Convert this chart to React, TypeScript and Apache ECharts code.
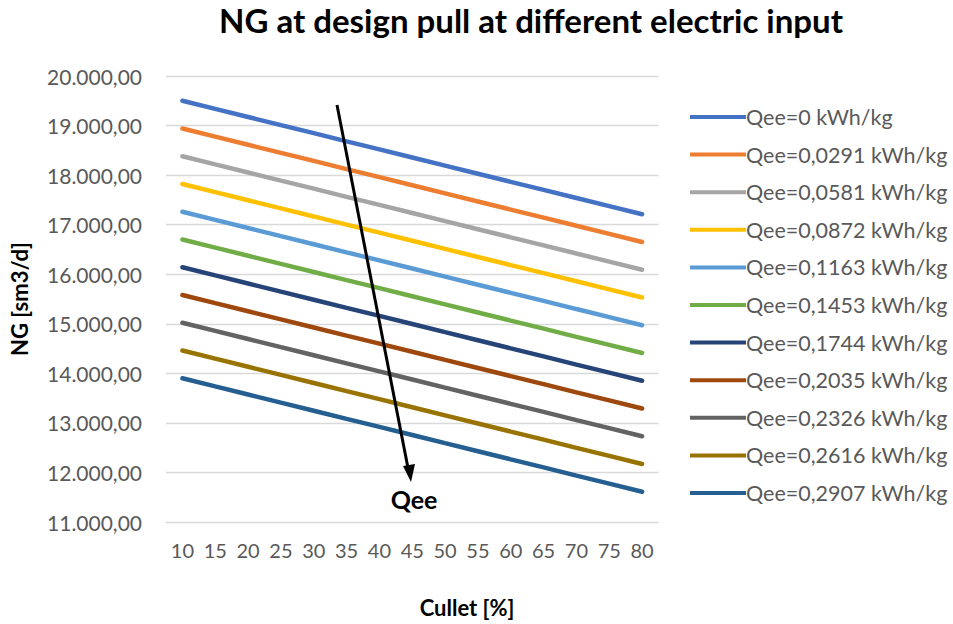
import React, { useEffect, useRef } from "react";
import * as echarts from "echarts";

// Cullet share on the x axis (%)
const cullet = ["10", "15", "20", "25", "30", "35", "40", "45", "50", "55", "60", "65", "70", "75", "80"];

// Specific electric input per curve
const seriesNames = [
  "Qee=0 kWh/kg",
  "Qee=0,0291 kWh/kg",
  "Qee=0,0581 kWh/kg",
  "Qee=0,0872 kWh/kg",
  "Qee=0,1163 kWh/kg",
  "Qee=0,1453 kWh/kg",
  "Qee=0,1744 kWh/kg",
  "Qee=0,2035 kWh/kg",
  "Qee=0,2326 kWh/kg",
  "Qee=0,2616 kWh/kg",
  "Qee=0,2907 kWh/kg",
];

// Natural gas consumption [sm3/d] per curve
const qee0000 = [19500, 19336, 19173, 19009, 18846, 18682, 18519, 18355, 18191, 18028, 17864, 17701, 17537, 17374, 17210];
const qee0291 = [18940, 18776, 18613, 18449, 18286, 18122, 17959, 17795, 17631, 17468, 17304, 17141, 16977, 16814, 16650];
const qee0581 = [18380, 18216, 18053, 17889, 17726, 17562, 17399, 17235, 17071, 16908, 16744, 16581, 16417, 16254, 16090];
const qee0872 = [17820, 17656, 17493, 17329, 17166, 17002, 16839, 16675, 16511, 16348, 16184, 16021, 15857, 15694, 15530];
const qee1163 = [17260, 17096, 16933, 16769, 16606, 16442, 16279, 16115, 15951, 15788, 15624, 15461, 15297, 15134, 14970];
const qee1453 = [16700, 16536, 16373, 16209, 16046, 15882, 15719, 15555, 15391, 15228, 15064, 14901, 14737, 14574, 14410];
const qee1744 = [16140, 15976, 15813, 15649, 15486, 15322, 15159, 14995, 14831, 14668, 14504, 14341, 14177, 14014, 13850];
const qee2035 = [15580, 15416, 15253, 15089, 14926, 14762, 14599, 14435, 14271, 14108, 13944, 13781, 13617, 13454, 13290];
const qee2326 = [15020, 14856, 14693, 14529, 14366, 14202, 14039, 13875, 13711, 13548, 13384, 13221, 13057, 12894, 12730];
const qee2616 = [14460, 14296, 14133, 13969, 13806, 13642, 13479, 13315, 13151, 12988, 12824, 12661, 12497, 12334, 12170];
const qee2907 = [13900, 13736, 13573, 13409, 13246, 13082, 12919, 12755, 12591, 12428, 12264, 12101, 11937, 11774, 11610];

const seriesValues = [qee0000, qee0291, qee0581, qee0872, qee1163, qee1453, qee1744, qee2035, qee2326, qee2616, qee2907];

const colors = [
  "#4472C4", "#ED7D31", "#A5A5A5", "#FFC000", "#5B9BD5", "#70AD47",
  "#264478", "#9E480E", "#636363", "#997300", "#255E91",
];

const FONT = "Lato, 'Open Sans', sans-serif";

// 20000 -> "20.000,00"
function formatDe(v: number): string {
  const [intPart, dec] = v.toFixed(2).split(".");
  return intPart.replace(/\B(?=(\d{3})+(?!\d))/g, ".") + "," + dec;
}

export default function App() {
  const ref = useRef<HTMLDivElement>(null);

  useEffect(() => {
    if (!ref.current) return;
    const chart = echarts.init(ref.current, null, { renderer: "svg" });

    const option: echarts.EChartsOption = {
      animation: false,
      backgroundColor: "#ffffff",
      color: colors,
      textStyle: { fontFamily: FONT },
      title: {
        text: "NG at design pull at different electric input",
        left: 531,
        textAlign: "center",
        top: 3,
        padding: 0,
        textStyle: { fontFamily: FONT, fontSize: 33, fontWeight: "bold", color: "#000000" },
      },
      grid: { left: 162.5, top: 76, width: 496, height: 446, containLabel: false },
      legend: {
        orient: "vertical",
        left: 690,
        top: 106,
        padding: 0,
        itemWidth: 56,
        itemHeight: 14,
        itemGap: 15.6,
        icon: "path://M0,5 L56,5 L56,9 L0,9 Z",
        textStyle: { fontFamily: FONT, fontSize: 21.5, color: "#595959", padding: [0, 0, 0, -5] },
        data: seriesNames,
      },
      xAxis: {
        type: "category",
        data: cullet,
        boundaryGap: true,
        axisLine: { show: true, lineStyle: { color: "#D9D9D9", width: 1 } },
        axisTick: { show: false },
        axisLabel: { fontFamily: FONT, fontSize: 20, color: "#595959", margin: 18 },
      },
      yAxis: {
        type: "value",
        min: 11000,
        max: 20000,
        interval: 1000,
        name: "NG [sm3/d]",
        nameLocation: "middle",
        nameGap: 136,
        nameRotate: 90,
        nameTextStyle: { fontFamily: FONT, fontSize: 22, fontWeight: "bold", color: "#000000" },
        axisLine: { show: false },
        axisTick: { show: false },
        splitLine: { lineStyle: { color: "#D9D9D9", width: 1.3 } },
        axisLabel: { fontFamily: FONT, fontSize: 21, color: "#595959", margin: 24, formatter: (v: number) => formatDe(v) },
      },
      series: seriesNames.map((name, i) => ({
        name,
        type: "line",
        data: seriesValues[i],
        showSymbol: false,
        symbol: "none",
        lineStyle: { width: 4.5, color: colors[i], cap: "round" },
        itemStyle: { color: colors[i] },
      })),
      graphic: [
        {
          type: "text",
          x: 467,
          y: 607,
          style: {
            text: "Cullet [%]",
            fontFamily: FONT,
            fontSize: 22,
            fontWeight: "bold",
            fill: "#000000",
            align: "center",
            verticalAlign: "middle",
          },
        },
        {
          type: "line",
          shape: { x1: 337, y1: 105, x2: 408, y2: 468 },
          style: { stroke: "#000000", lineWidth: 3 },
          z: 100,
        },
        {
          type: "polygon",
          shape: { points: [[411, 482], [403, 466], [415, 464]] },
          style: { fill: "#000000" },
          z: 100,
        },
        {
          type: "text",
          x: 414,
          y: 499,
          style: {
            text: "Qee",
            fontFamily: FONT,
            fontSize: 25,
            fontWeight: "bold",
            fill: "#000000",
            align: "center",
            verticalAlign: "middle",
          },
          z: 100,
        },
      ],
    };

    chart.setOption(option);
    return () => chart.dispose();
  }, []);

  return (
    <div
      ref={ref}
      style={{ position: "fixed", left: 0, top: 0, width: 953, height: 624 }}
    />
  );
}
